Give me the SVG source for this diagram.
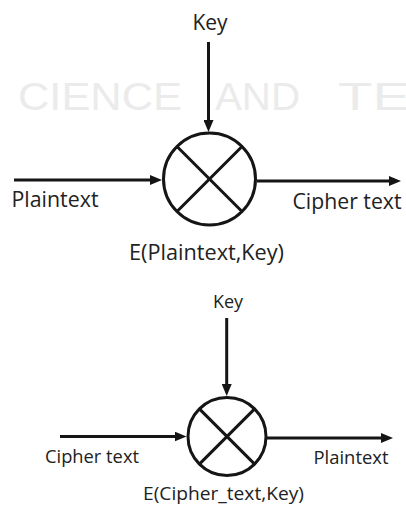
<svg xmlns="http://www.w3.org/2000/svg" width="406" height="507" viewBox="0 0 406 507">
<style>
.wm{font-family:"Liberation Sans",Arial,sans-serif;font-size:38px;fill:#ebebeb}
.lbl{font-family:"Open Sans","Liberation Sans",sans-serif;fill:#222}
.big{font-size:21px}
.sm{font-size:18px}
.ln{stroke:#151515;stroke-width:3;fill:none}
.ring{stroke:#151515;stroke-width:3;fill:#fff}
</style>
<defs>
<marker id="ah" markerUnits="userSpaceOnUse" markerWidth="12" markerHeight="10" refX="6" refY="5" orient="auto" viewBox="0 0 12 10">
<path d="M0,0 L12,5 L0,10 z" fill="#151515"/>
</marker>
</defs>
<rect width="406" height="507" fill="#fff"/>
<g id="watermark">
<text class="wm" x="18" y="110" textLength="164" lengthAdjust="spacingAndGlyphs">CIENCE</text>
<text class="wm" x="215" y="110" textLength="85" lengthAdjust="spacingAndGlyphs">AND</text>
<text class="wm" x="338" y="110" textLength="72" lengthAdjust="spacingAndGlyphs">TE</text>
</g>
<g id="connectors">
<line class="ln" x1="208.5" y1="42" x2="208.5" y2="126" marker-end="url(#ah)"/>
<line class="ln" x1="14" y1="180" x2="156" y2="180" marker-end="url(#ah)"/>
<line class="ln" x1="257" y1="181" x2="395" y2="181" marker-end="url(#ah)"/>
<line class="ln" x1="226.7" y1="318" x2="226.7" y2="390" marker-end="url(#ah)"/>
<line class="ln" x1="60" y1="436.5" x2="180.5" y2="436.5" marker-end="url(#ah)"/>
<line class="ln" x1="266" y1="438" x2="387" y2="438" marker-end="url(#ah)"/>
</g>
<g id="encrypt">
<circle class="ring" cx="209.5" cy="179" r="46"/>
<line class="ln" x1="177" y1="146.5" x2="242" y2="211.5"/>
<line class="ln" x1="242" y1="146.5" x2="177" y2="211.5"/>
</g>
<g id="decrypt">
<circle class="ring" cx="227" cy="436.5" r="39"/>
<line class="ln" x1="199.4" y1="408.9" x2="254.6" y2="464.1"/>
<line class="ln" x1="254.6" y1="408.9" x2="199.4" y2="464.1"/>
</g>
<g id="labels-top">
<text class="lbl big" x="210" y="30" text-anchor="middle">Key</text>
<text class="lbl big" x="11.5" y="207" textLength="87" lengthAdjust="spacingAndGlyphs">Plaintext</text>
<text class="lbl big" x="292.5" y="209" textLength="109" lengthAdjust="spacingAndGlyphs">Cipher text</text>
<text class="lbl big" x="129" y="260" textLength="155" lengthAdjust="spacingAndGlyphs">E(Plaintext,Key)</text>
</g>
<g id="labels-bottom">
<text class="lbl sm" x="228" y="308" text-anchor="middle">Key</text>
<text class="lbl sm" x="45" y="463" textLength="94" lengthAdjust="spacingAndGlyphs">Cipher text</text>
<text class="lbl sm" x="313.5" y="464" textLength="75" lengthAdjust="spacingAndGlyphs">Plaintext</text>
<text class="lbl sm" x="143" y="500" textLength="161" lengthAdjust="spacingAndGlyphs">E(Cipher_text,Key)</text>
</g>
</svg>
